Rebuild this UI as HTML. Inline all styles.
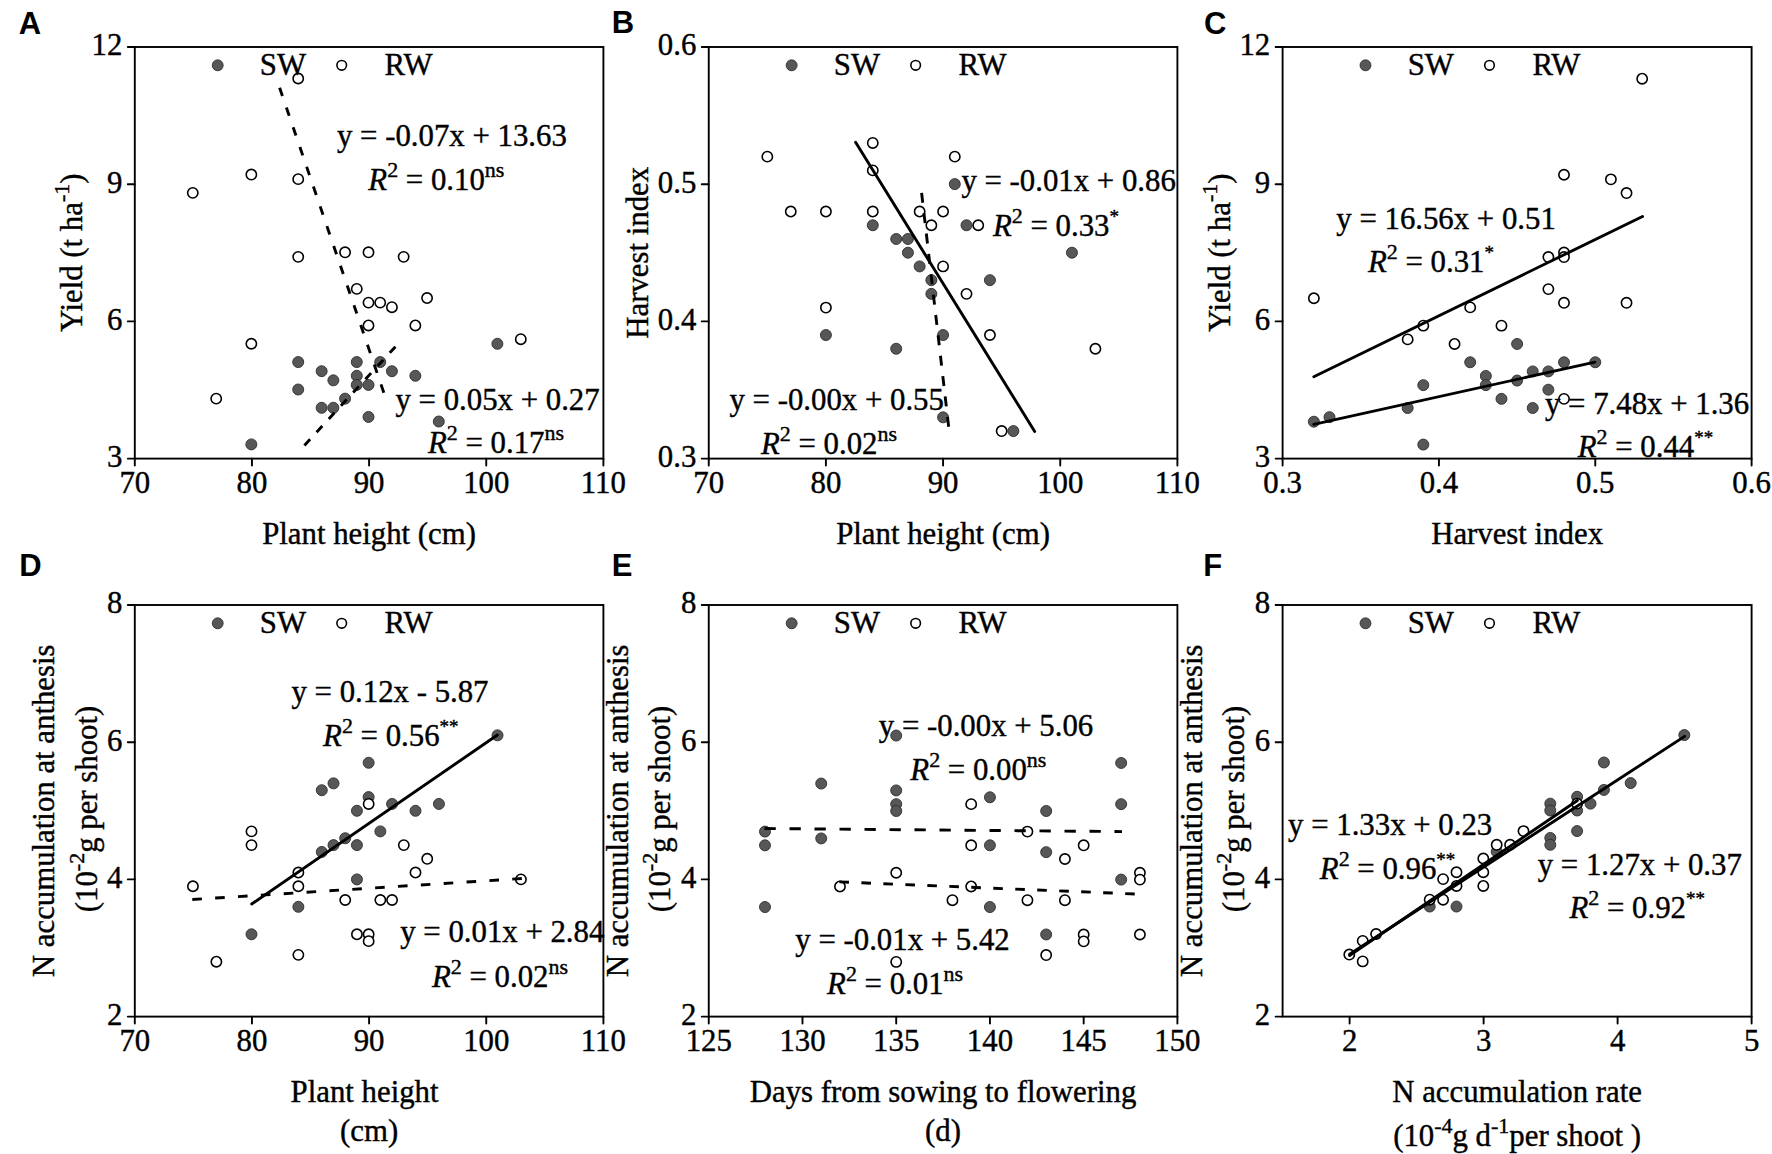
<!DOCTYPE html>
<html><head><meta charset="utf-8"><title>Figure</title>
<style>
html,body{margin:0;padding:0;background:#fff;overflow:hidden}
svg{display:block}
.t,.tl{font-family:"Liberation Serif","Times New Roman",serif;font-size:30.8px;fill:#000;stroke:#000;stroke-width:0.4px}
.pl{font-family:"Liberation Sans",Arial,sans-serif;font-weight:bold;font-size:31px;fill:#000}
.ax{fill:none;stroke:#000;stroke-width:1.9}
.tk{fill:none;stroke:#000;stroke-width:1.9;stroke-linecap:round}
.ln{stroke:#000;stroke-width:2.9;stroke-linecap:round}
.ld{stroke:#000;stroke-width:2.9}
.f{fill:#575757;stroke:#2e2e2e;stroke-width:0.9}
.o{fill:#fff;stroke:#000;stroke-width:1.6}
</style></head><body>
<svg width="1772" height="1154" viewBox="0 0 1772 1154">
<rect width="1772" height="1154" fill="#fff"/>
<rect x="134.8" y="47" width="468.6" height="411.6" class="ax"/>
<text x="134.8" y="493.4" class="tl" text-anchor="middle">70</text>
<text x="251.95" y="493.4" class="tl" text-anchor="middle">80</text>
<text x="369.1" y="493.4" class="tl" text-anchor="middle">90</text>
<text x="486.25" y="493.4" class="tl" text-anchor="middle">100</text>
<text x="603.4" y="493.4" class="tl" text-anchor="middle">110</text>
<text x="122.4" y="467" class="tl" text-anchor="end">3</text>
<text x="122.4" y="329.8" class="tl" text-anchor="end">6</text>
<text x="122.4" y="192.6" class="tl" text-anchor="end">9</text>
<text x="122.4" y="55.4" class="tl" text-anchor="end">12</text>
<path d="M134.8 458.6v7 M251.95 458.6v7 M369.1 458.6v7 M486.25 458.6v7 M603.4 458.6v7 M134.8 458.6h-7 M134.8 321.4h-7 M134.8 184.2h-7 M134.8 47h-7" class="tk"/>
<rect x="708.75" y="47" width="468.65" height="411.6" class="ax"/>
<text x="708.75" y="493.4" class="tl" text-anchor="middle">70</text>
<text x="825.91" y="493.4" class="tl" text-anchor="middle">80</text>
<text x="943.08" y="493.4" class="tl" text-anchor="middle">90</text>
<text x="1060.24" y="493.4" class="tl" text-anchor="middle">100</text>
<text x="1177.4" y="493.4" class="tl" text-anchor="middle">110</text>
<text x="696.35" y="467" class="tl" text-anchor="end">0.3</text>
<text x="696.35" y="329.8" class="tl" text-anchor="end">0.4</text>
<text x="696.35" y="192.6" class="tl" text-anchor="end">0.5</text>
<text x="696.35" y="55.4" class="tl" text-anchor="end">0.6</text>
<path d="M708.75 458.6v7 M825.91 458.6v7 M943.08 458.6v7 M1060.24 458.6v7 M1177.4 458.6v7 M708.75 458.6h-7 M708.75 321.4h-7 M708.75 184.2h-7 M708.75 47h-7" class="tk"/>
<rect x="1282.6" y="47" width="469" height="411.6" class="ax"/>
<text x="1282.6" y="493.4" class="tl" text-anchor="middle">0.3</text>
<text x="1438.93" y="493.4" class="tl" text-anchor="middle">0.4</text>
<text x="1595.27" y="493.4" class="tl" text-anchor="middle">0.5</text>
<text x="1751.6" y="493.4" class="tl" text-anchor="middle">0.6</text>
<text x="1270.2" y="467" class="tl" text-anchor="end">3</text>
<text x="1270.2" y="329.8" class="tl" text-anchor="end">6</text>
<text x="1270.2" y="192.6" class="tl" text-anchor="end">9</text>
<text x="1270.2" y="55.4" class="tl" text-anchor="end">12</text>
<path d="M1282.6 458.6v7 M1438.93 458.6v7 M1595.27 458.6v7 M1751.6 458.6v7 M1282.6 458.6h-7 M1282.6 321.4h-7 M1282.6 184.2h-7 M1282.6 47h-7" class="tk"/>
<rect x="134.8" y="605" width="468.6" height="411.6" class="ax"/>
<text x="134.8" y="1051.4" class="tl" text-anchor="middle">70</text>
<text x="251.95" y="1051.4" class="tl" text-anchor="middle">80</text>
<text x="369.1" y="1051.4" class="tl" text-anchor="middle">90</text>
<text x="486.25" y="1051.4" class="tl" text-anchor="middle">100</text>
<text x="603.4" y="1051.4" class="tl" text-anchor="middle">110</text>
<text x="122.4" y="1025" class="tl" text-anchor="end">2</text>
<text x="122.4" y="887.8" class="tl" text-anchor="end">4</text>
<text x="122.4" y="750.6" class="tl" text-anchor="end">6</text>
<text x="122.4" y="613.4" class="tl" text-anchor="end">8</text>
<path d="M134.8 1016.6v7 M251.95 1016.6v7 M369.1 1016.6v7 M486.25 1016.6v7 M603.4 1016.6v7 M134.8 1016.6h-7 M134.8 879.4h-7 M134.8 742.2h-7 M134.8 605h-7" class="tk"/>
<rect x="708.75" y="605" width="468.65" height="411.6" class="ax"/>
<text x="708.75" y="1051.4" class="tl" text-anchor="middle">125</text>
<text x="802.48" y="1051.4" class="tl" text-anchor="middle">130</text>
<text x="896.21" y="1051.4" class="tl" text-anchor="middle">135</text>
<text x="989.94" y="1051.4" class="tl" text-anchor="middle">140</text>
<text x="1083.67" y="1051.4" class="tl" text-anchor="middle">145</text>
<text x="1177.4" y="1051.4" class="tl" text-anchor="middle">150</text>
<text x="696.35" y="1025" class="tl" text-anchor="end">2</text>
<text x="696.35" y="887.8" class="tl" text-anchor="end">4</text>
<text x="696.35" y="750.6" class="tl" text-anchor="end">6</text>
<text x="696.35" y="613.4" class="tl" text-anchor="end">8</text>
<path d="M708.75 1016.6v7 M802.48 1016.6v7 M896.21 1016.6v7 M989.94 1016.6v7 M1083.67 1016.6v7 M1177.4 1016.6v7 M708.75 1016.6h-7 M708.75 879.4h-7 M708.75 742.2h-7 M708.75 605h-7" class="tk"/>
<rect x="1282.6" y="605" width="469" height="411.6" class="ax"/>
<text x="1349.6" y="1051.4" class="tl" text-anchor="middle">2</text>
<text x="1483.6" y="1051.4" class="tl" text-anchor="middle">3</text>
<text x="1617.6" y="1051.4" class="tl" text-anchor="middle">4</text>
<text x="1751.6" y="1051.4" class="tl" text-anchor="middle">5</text>
<text x="1270.2" y="1025" class="tl" text-anchor="end">2</text>
<text x="1270.2" y="887.8" class="tl" text-anchor="end">4</text>
<text x="1270.2" y="750.6" class="tl" text-anchor="end">6</text>
<text x="1270.2" y="613.4" class="tl" text-anchor="end">8</text>
<path d="M1349.6 1016.6v7 M1483.6 1016.6v7 M1617.6 1016.6v7 M1751.6 1016.6v7 M1282.6 1016.6h-7 M1282.6 879.4h-7 M1282.6 742.2h-7 M1282.6 605h-7" class="tk"/>
<circle cx="298.21" cy="362.06" r="5.5" class="f"/>
<circle cx="298.21" cy="389.5" r="5.5" class="f"/>
<circle cx="321.64" cy="371.21" r="5.5" class="f"/>
<circle cx="333.36" cy="380.35" r="5.5" class="f"/>
<circle cx="321.64" cy="407.79" r="5.5" class="f"/>
<circle cx="333.36" cy="407.79" r="5.5" class="f"/>
<circle cx="345.07" cy="398.65" r="5.5" class="f"/>
<circle cx="356.78" cy="362.06" r="5.5" class="f"/>
<circle cx="356.78" cy="375.78" r="5.5" class="f"/>
<circle cx="356.78" cy="384.93" r="5.5" class="f"/>
<circle cx="251.35" cy="444.38" r="5.5" class="f"/>
<circle cx="380.21" cy="362.06" r="5.5" class="f"/>
<circle cx="391.93" cy="371.21" r="5.5" class="f"/>
<circle cx="415.36" cy="375.78" r="5.5" class="f"/>
<circle cx="368.5" cy="384.93" r="5.5" class="f"/>
<circle cx="368.5" cy="416.94" r="5.5" class="f"/>
<circle cx="438.79" cy="421.51" r="5.5" class="f"/>
<circle cx="497.36" cy="343.77" r="5.5" class="f"/>
<circle cx="298.21" cy="78.51" r="5.15" class="o" stroke-width="1.7"/>
<circle cx="251.35" cy="174.55" r="5.15" class="o" stroke-width="1.7"/>
<circle cx="298.21" cy="179.13" r="5.15" class="o" stroke-width="1.7"/>
<circle cx="192.78" cy="192.85" r="5.15" class="o" stroke-width="1.7"/>
<circle cx="298.21" cy="256.87" r="5.15" class="o" stroke-width="1.7"/>
<circle cx="345.07" cy="252.3" r="5.15" class="o" stroke-width="1.7"/>
<circle cx="356.78" cy="288.89" r="5.15" class="o" stroke-width="1.7"/>
<circle cx="251.35" cy="343.77" r="5.15" class="o" stroke-width="1.7"/>
<circle cx="216.21" cy="398.65" r="5.15" class="o" stroke-width="1.7"/>
<circle cx="368.5" cy="252.3" r="5.15" class="o" stroke-width="1.7"/>
<circle cx="403.64" cy="256.87" r="5.15" class="o" stroke-width="1.7"/>
<circle cx="427.07" cy="298.03" r="5.15" class="o" stroke-width="1.7"/>
<circle cx="368.5" cy="302.61" r="5.15" class="o" stroke-width="1.7"/>
<circle cx="380.21" cy="302.61" r="5.15" class="o" stroke-width="1.7"/>
<circle cx="391.93" cy="307.18" r="5.15" class="o" stroke-width="1.7"/>
<circle cx="368.5" cy="325.47" r="5.15" class="o" stroke-width="1.7"/>
<circle cx="415.36" cy="325.47" r="5.15" class="o" stroke-width="1.7"/>
<circle cx="520.79" cy="339.19" r="5.15" class="o" stroke-width="1.7"/>
<circle cx="872.78" cy="225.26" r="5.5" class="f"/>
<circle cx="896.21" cy="238.98" r="5.5" class="f"/>
<circle cx="907.93" cy="238.98" r="5.5" class="f"/>
<circle cx="954.79" cy="184.1" r="5.5" class="f"/>
<circle cx="966.51" cy="225.26" r="5.5" class="f"/>
<circle cx="1071.95" cy="252.7" r="5.5" class="f"/>
<circle cx="907.93" cy="252.7" r="5.5" class="f"/>
<circle cx="919.64" cy="266.42" r="5.5" class="f"/>
<circle cx="931.36" cy="280.14" r="5.5" class="f"/>
<circle cx="931.36" cy="293.86" r="5.5" class="f"/>
<circle cx="825.91" cy="335.02" r="5.5" class="f"/>
<circle cx="943.08" cy="335.02" r="5.5" class="f"/>
<circle cx="896.21" cy="348.74" r="5.5" class="f"/>
<circle cx="943.08" cy="417.34" r="5.5" class="f"/>
<circle cx="989.94" cy="280.14" r="5.5" class="f"/>
<circle cx="1013.37" cy="431.06" r="5.5" class="f"/>
<circle cx="872.78" cy="142.94" r="5.15" class="o" stroke-width="1.7"/>
<circle cx="767.33" cy="156.66" r="5.15" class="o" stroke-width="1.7"/>
<circle cx="872.78" cy="170.38" r="5.15" class="o" stroke-width="1.7"/>
<circle cx="790.76" cy="211.54" r="5.15" class="o" stroke-width="1.7"/>
<circle cx="825.91" cy="211.54" r="5.15" class="o" stroke-width="1.7"/>
<circle cx="872.78" cy="211.54" r="5.15" class="o" stroke-width="1.7"/>
<circle cx="919.64" cy="211.54" r="5.15" class="o" stroke-width="1.7"/>
<circle cx="943.08" cy="211.54" r="5.15" class="o" stroke-width="1.7"/>
<circle cx="931.36" cy="225.26" r="5.15" class="o" stroke-width="1.7"/>
<circle cx="954.79" cy="156.66" r="5.15" class="o" stroke-width="1.7"/>
<circle cx="978.22" cy="225.26" r="5.15" class="o" stroke-width="1.7"/>
<circle cx="943.08" cy="266.42" r="5.15" class="o" stroke-width="1.7"/>
<circle cx="825.91" cy="307.58" r="5.15" class="o" stroke-width="1.7"/>
<circle cx="966.51" cy="293.86" r="5.15" class="o" stroke-width="1.7"/>
<circle cx="989.94" cy="335.02" r="5.15" class="o" stroke-width="1.7"/>
<circle cx="1095.39" cy="348.74" r="5.15" class="o" stroke-width="1.7"/>
<circle cx="1001.66" cy="431.06" r="5.15" class="o" stroke-width="1.7"/>
<circle cx="1517.1" cy="343.97" r="5.5" class="f"/>
<circle cx="1470.2" cy="362.26" r="5.5" class="f"/>
<circle cx="1485.83" cy="375.98" r="5.5" class="f"/>
<circle cx="1485.83" cy="385.13" r="5.5" class="f"/>
<circle cx="1517.1" cy="380.55" r="5.5" class="f"/>
<circle cx="1423.3" cy="385.13" r="5.5" class="f"/>
<circle cx="1501.47" cy="398.85" r="5.5" class="f"/>
<circle cx="1407.67" cy="407.99" r="5.5" class="f"/>
<circle cx="1313.87" cy="421.71" r="5.5" class="f"/>
<circle cx="1329.5" cy="417.14" r="5.5" class="f"/>
<circle cx="1423.3" cy="444.58" r="5.5" class="f"/>
<circle cx="1564" cy="362.26" r="5.5" class="f"/>
<circle cx="1595.27" cy="362.26" r="5.5" class="f"/>
<circle cx="1532.73" cy="371.41" r="5.5" class="f"/>
<circle cx="1548.37" cy="371.41" r="5.5" class="f"/>
<circle cx="1548.37" cy="389.7" r="5.5" class="f"/>
<circle cx="1532.73" cy="407.99" r="5.5" class="f"/>
<circle cx="1313.87" cy="298.23" r="5.15" class="o" stroke-width="1.7"/>
<circle cx="1407.67" cy="339.39" r="5.15" class="o" stroke-width="1.7"/>
<circle cx="1423.3" cy="325.67" r="5.15" class="o" stroke-width="1.7"/>
<circle cx="1454.57" cy="343.97" r="5.15" class="o" stroke-width="1.7"/>
<circle cx="1470.2" cy="307.38" r="5.15" class="o" stroke-width="1.7"/>
<circle cx="1501.47" cy="325.67" r="5.15" class="o" stroke-width="1.7"/>
<circle cx="1642.17" cy="78.71" r="5.15" class="o" stroke-width="1.7"/>
<circle cx="1564" cy="174.75" r="5.15" class="o" stroke-width="1.7"/>
<circle cx="1610.9" cy="179.33" r="5.15" class="o" stroke-width="1.7"/>
<circle cx="1626.53" cy="193.05" r="5.15" class="o" stroke-width="1.7"/>
<circle cx="1548.37" cy="257.07" r="5.15" class="o" stroke-width="1.7"/>
<circle cx="1564" cy="252.5" r="5.15" class="o" stroke-width="1.7"/>
<circle cx="1564" cy="257.07" r="5.15" class="o" stroke-width="1.7"/>
<circle cx="1548.37" cy="289.09" r="5.15" class="o" stroke-width="1.7"/>
<circle cx="1564" cy="302.81" r="5.15" class="o" stroke-width="1.7"/>
<circle cx="1626.53" cy="302.81" r="5.15" class="o" stroke-width="1.7"/>
<circle cx="1564" cy="398.85" r="5.15" class="o" stroke-width="1.7"/>
<circle cx="333.51" cy="783.36" r="5.5" class="f"/>
<circle cx="321.79" cy="790.22" r="5.5" class="f"/>
<circle cx="368.65" cy="762.78" r="5.5" class="f"/>
<circle cx="497.51" cy="735.34" r="5.5" class="f"/>
<circle cx="368.65" cy="797.08" r="5.5" class="f"/>
<circle cx="392.08" cy="803.94" r="5.5" class="f"/>
<circle cx="438.94" cy="803.94" r="5.5" class="f"/>
<circle cx="415.51" cy="810.8" r="5.5" class="f"/>
<circle cx="356.94" cy="810.8" r="5.5" class="f"/>
<circle cx="321.79" cy="851.96" r="5.5" class="f"/>
<circle cx="333.51" cy="845.1" r="5.5" class="f"/>
<circle cx="345.22" cy="838.24" r="5.5" class="f"/>
<circle cx="356.94" cy="845.1" r="5.5" class="f"/>
<circle cx="380.36" cy="831.38" r="5.5" class="f"/>
<circle cx="356.94" cy="879.4" r="5.5" class="f"/>
<circle cx="298.36" cy="906.84" r="5.5" class="f"/>
<circle cx="251.5" cy="934.28" r="5.5" class="f"/>
<circle cx="368.65" cy="803.94" r="5.15" class="o" stroke-width="1.7"/>
<circle cx="251.5" cy="831.38" r="5.15" class="o" stroke-width="1.7"/>
<circle cx="251.5" cy="845.1" r="5.15" class="o" stroke-width="1.7"/>
<circle cx="298.36" cy="872.54" r="5.15" class="o" stroke-width="1.7"/>
<circle cx="298.36" cy="886.26" r="5.15" class="o" stroke-width="1.7"/>
<circle cx="192.93" cy="886.26" r="5.15" class="o" stroke-width="1.7"/>
<circle cx="345.22" cy="899.98" r="5.15" class="o" stroke-width="1.7"/>
<circle cx="356.94" cy="934.28" r="5.15" class="o" stroke-width="1.7"/>
<circle cx="368.65" cy="934.28" r="5.15" class="o" stroke-width="1.7"/>
<circle cx="368.65" cy="941.14" r="5.15" class="o" stroke-width="1.7"/>
<circle cx="298.36" cy="954.86" r="5.15" class="o" stroke-width="1.7"/>
<circle cx="216.36" cy="961.72" r="5.15" class="o" stroke-width="1.7"/>
<circle cx="403.8" cy="845.1" r="5.15" class="o" stroke-width="1.7"/>
<circle cx="427.23" cy="858.82" r="5.15" class="o" stroke-width="1.7"/>
<circle cx="415.51" cy="872.54" r="5.15" class="o" stroke-width="1.7"/>
<circle cx="520.94" cy="879.4" r="5.15" class="o" stroke-width="1.7"/>
<circle cx="380.36" cy="899.98" r="5.15" class="o" stroke-width="1.7"/>
<circle cx="392.08" cy="899.98" r="5.15" class="o" stroke-width="1.7"/>
<circle cx="896.21" cy="735.54" r="5.5" class="f"/>
<circle cx="821.23" cy="783.56" r="5.5" class="f"/>
<circle cx="896.21" cy="790.42" r="5.5" class="f"/>
<circle cx="896.21" cy="804.14" r="5.5" class="f"/>
<circle cx="896.21" cy="811" r="5.5" class="f"/>
<circle cx="1121.16" cy="762.98" r="5.5" class="f"/>
<circle cx="989.94" cy="797.28" r="5.5" class="f"/>
<circle cx="1121.16" cy="804.14" r="5.5" class="f"/>
<circle cx="1046.18" cy="811" r="5.5" class="f"/>
<circle cx="764.99" cy="831.58" r="5.5" class="f"/>
<circle cx="764.99" cy="845.3" r="5.5" class="f"/>
<circle cx="821.23" cy="838.44" r="5.5" class="f"/>
<circle cx="764.99" cy="907.04" r="5.5" class="f"/>
<circle cx="989.94" cy="845.3" r="5.5" class="f"/>
<circle cx="1046.18" cy="852.16" r="5.5" class="f"/>
<circle cx="1121.16" cy="879.6" r="5.5" class="f"/>
<circle cx="989.94" cy="907.04" r="5.5" class="f"/>
<circle cx="1046.18" cy="934.48" r="5.5" class="f"/>
<circle cx="971.19" cy="804.14" r="5.15" class="o" stroke-width="1.7"/>
<circle cx="896.21" cy="872.74" r="5.15" class="o" stroke-width="1.7"/>
<circle cx="839.97" cy="886.46" r="5.15" class="o" stroke-width="1.7"/>
<circle cx="896.21" cy="961.92" r="5.15" class="o" stroke-width="1.7"/>
<circle cx="952.45" cy="900.18" r="5.15" class="o" stroke-width="1.7"/>
<circle cx="1027.43" cy="831.58" r="5.15" class="o" stroke-width="1.7"/>
<circle cx="971.19" cy="845.3" r="5.15" class="o" stroke-width="1.7"/>
<circle cx="1064.92" cy="859.02" r="5.15" class="o" stroke-width="1.7"/>
<circle cx="1083.67" cy="845.3" r="5.15" class="o" stroke-width="1.7"/>
<circle cx="1139.91" cy="872.74" r="5.15" class="o" stroke-width="1.7"/>
<circle cx="1139.91" cy="879.6" r="5.15" class="o" stroke-width="1.7"/>
<circle cx="971.19" cy="886.46" r="5.15" class="o" stroke-width="1.7"/>
<circle cx="1027.43" cy="900.18" r="5.15" class="o" stroke-width="1.7"/>
<circle cx="1064.92" cy="900.18" r="5.15" class="o" stroke-width="1.7"/>
<circle cx="1083.67" cy="934.48" r="5.15" class="o" stroke-width="1.7"/>
<circle cx="1083.67" cy="941.34" r="5.15" class="o" stroke-width="1.7"/>
<circle cx="1139.91" cy="934.48" r="5.15" class="o" stroke-width="1.7"/>
<circle cx="1046.18" cy="955.06" r="5.15" class="o" stroke-width="1.7"/>
<circle cx="1684.3" cy="735.04" r="5.5" class="f"/>
<circle cx="1603.9" cy="762.48" r="5.5" class="f"/>
<circle cx="1630.7" cy="783.06" r="5.5" class="f"/>
<circle cx="1603.9" cy="789.92" r="5.5" class="f"/>
<circle cx="1577.1" cy="796.78" r="5.5" class="f"/>
<circle cx="1590.5" cy="803.64" r="5.5" class="f"/>
<circle cx="1550.3" cy="803.64" r="5.5" class="f"/>
<circle cx="1550.3" cy="810.5" r="5.5" class="f"/>
<circle cx="1577.1" cy="810.5" r="5.5" class="f"/>
<circle cx="1577.1" cy="831.08" r="5.5" class="f"/>
<circle cx="1550.3" cy="837.94" r="5.5" class="f"/>
<circle cx="1550.3" cy="844.8" r="5.5" class="f"/>
<circle cx="1429.7" cy="906.54" r="5.5" class="f"/>
<circle cx="1456.5" cy="906.54" r="5.5" class="f"/>
<circle cx="1496.7" cy="851.66" r="5.5" class="f"/>
<circle cx="1349.3" cy="954.56" r="5.15" class="o" stroke-width="1.7"/>
<circle cx="1362.7" cy="961.42" r="5.15" class="o" stroke-width="1.7"/>
<circle cx="1362.7" cy="940.84" r="5.15" class="o" stroke-width="1.7"/>
<circle cx="1376.1" cy="933.98" r="5.15" class="o" stroke-width="1.7"/>
<circle cx="1429.7" cy="899.68" r="5.15" class="o" stroke-width="1.7"/>
<circle cx="1443.1" cy="899.68" r="5.15" class="o" stroke-width="1.7"/>
<circle cx="1443.1" cy="879.1" r="5.15" class="o" stroke-width="1.7"/>
<circle cx="1456.5" cy="872.24" r="5.15" class="o" stroke-width="1.7"/>
<circle cx="1456.5" cy="885.96" r="5.15" class="o" stroke-width="1.7"/>
<circle cx="1483.3" cy="858.52" r="5.15" class="o" stroke-width="1.7"/>
<circle cx="1483.3" cy="872.24" r="5.15" class="o" stroke-width="1.7"/>
<circle cx="1483.3" cy="885.96" r="5.15" class="o" stroke-width="1.7"/>
<circle cx="1496.7" cy="844.8" r="5.15" class="o" stroke-width="1.7"/>
<circle cx="1510.1" cy="844.8" r="5.15" class="o" stroke-width="1.7"/>
<circle cx="1523.5" cy="831.08" r="5.15" class="o" stroke-width="1.7"/>
<circle cx="1577.1" cy="803.64" r="5.15" class="o" stroke-width="1.7"/>
<line x1="279.6" y1="87.7" x2="386.5" y2="400.5" class="ld" stroke-dasharray="8.8 12.1"/>
<line x1="304.4" y1="445.5" x2="397.9" y2="344" class="ld" stroke-dasharray="8.4 9.6"/>
<line x1="855.6" y1="142.3" x2="1034.7" y2="431.4" class="ln"/>
<line x1="921.6" y1="192.8" x2="949.2" y2="431.4" class="ld" stroke-dasharray="10 10.5"/>
<line x1="1313.8" y1="376.7" x2="1642.5" y2="216.5" class="ln"/>
<line x1="1313.8" y1="424.4" x2="1594.9" y2="362.1" class="ln"/>
<line x1="251.7" y1="904" x2="497.4" y2="735" class="ln"/>
<line x1="192.3" y1="899.5" x2="524.3" y2="878.4" class="ld" stroke-dasharray="9.6 13.3"/>
<line x1="764.5" y1="828.5" x2="1122" y2="831.6" class="ld" stroke-dasharray="11.3 13.7"/>
<line x1="839.4" y1="881.9" x2="1135.5" y2="894" class="ld" stroke-dasharray="9.6 12.4"/>
<line x1="1349.6" y1="954.17" x2="1684.6" y2="736.37" class="ln"/>
<line x1="1349.6" y1="955.55" x2="1577.4" y2="800.44" class="ln"/>
<circle cx="217.7" cy="65.3" r="5.45" class="f"/>
<circle cx="341.7" cy="65.3" r="4.8" class="o"/>
<text x="259.84" y="74.9" class="t">SW</text>
<text x="384.61" y="74.9" class="t">RW</text>
<circle cx="791.65" cy="65.3" r="5.45" class="f"/>
<circle cx="915.65" cy="65.3" r="4.8" class="o"/>
<text x="833.79" y="74.9" class="t">SW</text>
<text x="958.56" y="74.9" class="t">RW</text>
<circle cx="1365.5" cy="65.3" r="5.45" class="f"/>
<circle cx="1489.5" cy="65.3" r="4.8" class="o"/>
<text x="1407.64" y="74.9" class="t">SW</text>
<text x="1532.41" y="74.9" class="t">RW</text>
<circle cx="217.7" cy="623.3" r="5.45" class="f"/>
<circle cx="341.7" cy="623.3" r="4.8" class="o"/>
<text x="259.84" y="632.9" class="t">SW</text>
<text x="384.61" y="632.9" class="t">RW</text>
<circle cx="791.65" cy="623.3" r="5.45" class="f"/>
<circle cx="915.65" cy="623.3" r="4.8" class="o"/>
<text x="833.79" y="632.9" class="t">SW</text>
<text x="958.56" y="632.9" class="t">RW</text>
<circle cx="1365.5" cy="623.3" r="5.45" class="f"/>
<circle cx="1489.5" cy="623.3" r="4.8" class="o"/>
<text x="1407.64" y="632.9" class="t">SW</text>
<text x="1532.41" y="632.9" class="t">RW</text>
<text x="18.63" y="33.6" class="pl">A</text>
<text x="611.83" y="33.4" class="pl">B</text>
<text x="1204.03" y="33.9" class="pl">C</text>
<text x="19.13" y="576.4" class="pl">D</text>
<text x="611.83" y="576.4" class="pl">E</text>
<text x="1203.23" y="576.4" class="pl">F</text>
<text x="337.02" y="145.5" class="t">y = -0.07x + 13.63</text>
<text x="395.52" y="409.5" class="t">y = 0.05x + 0.27</text>
<text x="961.42" y="191" class="t">y = -0.01x + 0.86</text>
<text x="729.52" y="409.5" class="t">y = -0.00x + 0.55</text>
<text x="1336.32" y="228.7" class="t">y = 16.56x + 0.51</text>
<text x="1545.02" y="413.8" class="t">y = 7.48x + 1.36</text>
<text x="291.52" y="702.3" class="t">y = 0.12x - 5.87</text>
<text x="400.22" y="941.8" class="t">y = 0.01x + 2.84</text>
<text x="878.82" y="735.6" class="t">y = -0.00x + 5.06</text>
<text x="795.32" y="950.1" class="t">y = -0.01x + 5.42</text>
<text x="1288.12" y="834.7" class="t">y = 1.33x + 0.23</text>
<text x="1537.72" y="874.8" class="t">y = 1.27x + 0.37</text>
<text x="368.37" y="189.9" class="t"><tspan font-style="italic">R</tspan><tspan font-size="22.0" dy="-13.0">2</tspan><tspan dy="13.0"> = 0.10</tspan><tspan font-size="22.0" dy="-13.0">ns</tspan></text>
<text x="427.97" y="453.3" class="t"><tspan font-style="italic">R</tspan><tspan font-size="22.0" dy="-13.0">2</tspan><tspan dy="13.0"> = 0.17</tspan><tspan font-size="22.0" dy="-13.0">ns</tspan></text>
<text x="992.97" y="235.5" class="t"><tspan font-style="italic">R</tspan><tspan font-size="22.0" dy="-13.0">2</tspan><tspan dy="13.0"> = 0.33</tspan><tspan font-size="19" dy="-13.0">*</tspan></text>
<text x="760.97" y="454.1" class="t"><tspan font-style="italic">R</tspan><tspan font-size="22.0" dy="-13.0">2</tspan><tspan dy="13.0"> = 0.02</tspan><tspan font-size="22.0" dy="-13.0">ns</tspan></text>
<text x="1367.97" y="272.3" class="t"><tspan font-style="italic">R</tspan><tspan font-size="22.0" dy="-13.0">2</tspan><tspan dy="13.0"> = 0.31</tspan><tspan font-size="19" dy="-13.0">*</tspan></text>
<text x="1577.77" y="457.3" class="t"><tspan font-style="italic">R</tspan><tspan font-size="22.0" dy="-13.0">2</tspan><tspan dy="13.0"> = 0.44</tspan><tspan font-size="19" dy="-13.0">**</tspan></text>
<text x="323.07" y="745.9" class="t"><tspan font-style="italic">R</tspan><tspan font-size="22.0" dy="-13.0">2</tspan><tspan dy="13.0"> = 0.56</tspan><tspan font-size="19" dy="-13.0">**</tspan></text>
<text x="431.97" y="986.7" class="t"><tspan font-style="italic">R</tspan><tspan font-size="22.0" dy="-13.0">2</tspan><tspan dy="13.0"> = 0.02</tspan><tspan font-size="22.0" dy="-13.0">ns</tspan></text>
<text x="910.37" y="779.5" class="t"><tspan font-style="italic">R</tspan><tspan font-size="22.0" dy="-13.0">2</tspan><tspan dy="13.0"> = 0.00</tspan><tspan font-size="22.0" dy="-13.0">ns</tspan></text>
<text x="827.07" y="994" class="t"><tspan font-style="italic">R</tspan><tspan font-size="22.0" dy="-13.0">2</tspan><tspan dy="13.0"> = 0.01</tspan><tspan font-size="22.0" dy="-13.0">ns</tspan></text>
<text x="1319.87" y="878.6" class="t"><tspan font-style="italic">R</tspan><tspan font-size="22.0" dy="-13.0">2</tspan><tspan dy="13.0"> = 0.96</tspan><tspan font-size="19" dy="-13.0">**</tspan></text>
<text x="1569.47" y="918.1" class="t"><tspan font-style="italic">R</tspan><tspan font-size="22.0" dy="-13.0">2</tspan><tspan dy="13.0"> = 0.92</tspan><tspan font-size="19" dy="-13.0">**</tspan></text>
<text x="369.1" y="543.8" class="t" text-anchor="middle">Plant height (cm)</text>
<text x="943.08" y="543.8" class="t" text-anchor="middle">Plant height (cm)</text>
<text x="1517.1" y="543.8" class="t" text-anchor="middle">Harvest index</text>
<text x="364.6" y="1102.3" class="t" text-anchor="middle">Plant height</text>
<text x="369.1" y="1140.7" class="t" text-anchor="middle">(cm)</text>
<text x="943.08" y="1102.3" class="t" text-anchor="middle">Days from sowing to flowering</text>
<text x="943.08" y="1140.9" class="t" text-anchor="middle">(d)</text>
<text x="1517.1" y="1102.3" class="t" text-anchor="middle">N accumulation rate</text>
<text x="1517.1" y="1145.6" class="t" text-anchor="middle">(10<tspan font-size="22.0" dy="-13.0">-4</tspan><tspan dy="13.0">g d</tspan><tspan font-size="22.0" dy="-13.0">-1</tspan><tspan dy="13.0">per shoot )</tspan></text>
<text transform="translate(82 252.8) rotate(-90)" x="0" y="0" class="t" text-anchor="middle">Yield (t ha<tspan font-size="22.0" dy="-13.0">-1</tspan><tspan dy="13.0">)</tspan></text>
<text transform="translate(648 252.8) rotate(-90)" x="0" y="0" class="t" text-anchor="middle">Harvest index</text>
<text transform="translate(1230 252.8) rotate(-90)" x="0" y="0" class="t" text-anchor="middle">Yield (t ha<tspan font-size="22.0" dy="-13.0">-1</tspan><tspan dy="13.0">)</tspan></text>
<text transform="translate(54.1 810.8) rotate(-90)" x="0" y="0" class="t" text-anchor="middle">N accumulation at anthesis</text>
<text transform="translate(96.5 809) rotate(-90)" x="0" y="0" class="t" text-anchor="middle">(10<tspan font-size="22.0" dy="-13.0">-2</tspan><tspan dy="13.0">g per shoot)</tspan></text>
<text transform="translate(628.05 810.8) rotate(-90)" x="0" y="0" class="t" text-anchor="middle">N accumulation at anthesis</text>
<text transform="translate(670.45 809) rotate(-90)" x="0" y="0" class="t" text-anchor="middle">(10<tspan font-size="22.0" dy="-13.0">-2</tspan><tspan dy="13.0">g per shoot)</tspan></text>
<text transform="translate(1201.9 810.8) rotate(-90)" x="0" y="0" class="t" text-anchor="middle">N accumulation at anthesis</text>
<text transform="translate(1244.3 809) rotate(-90)" x="0" y="0" class="t" text-anchor="middle">(10<tspan font-size="22.0" dy="-13.0">-2</tspan><tspan dy="13.0">g per shoot)</tspan></text>
</svg>
</body></html>
